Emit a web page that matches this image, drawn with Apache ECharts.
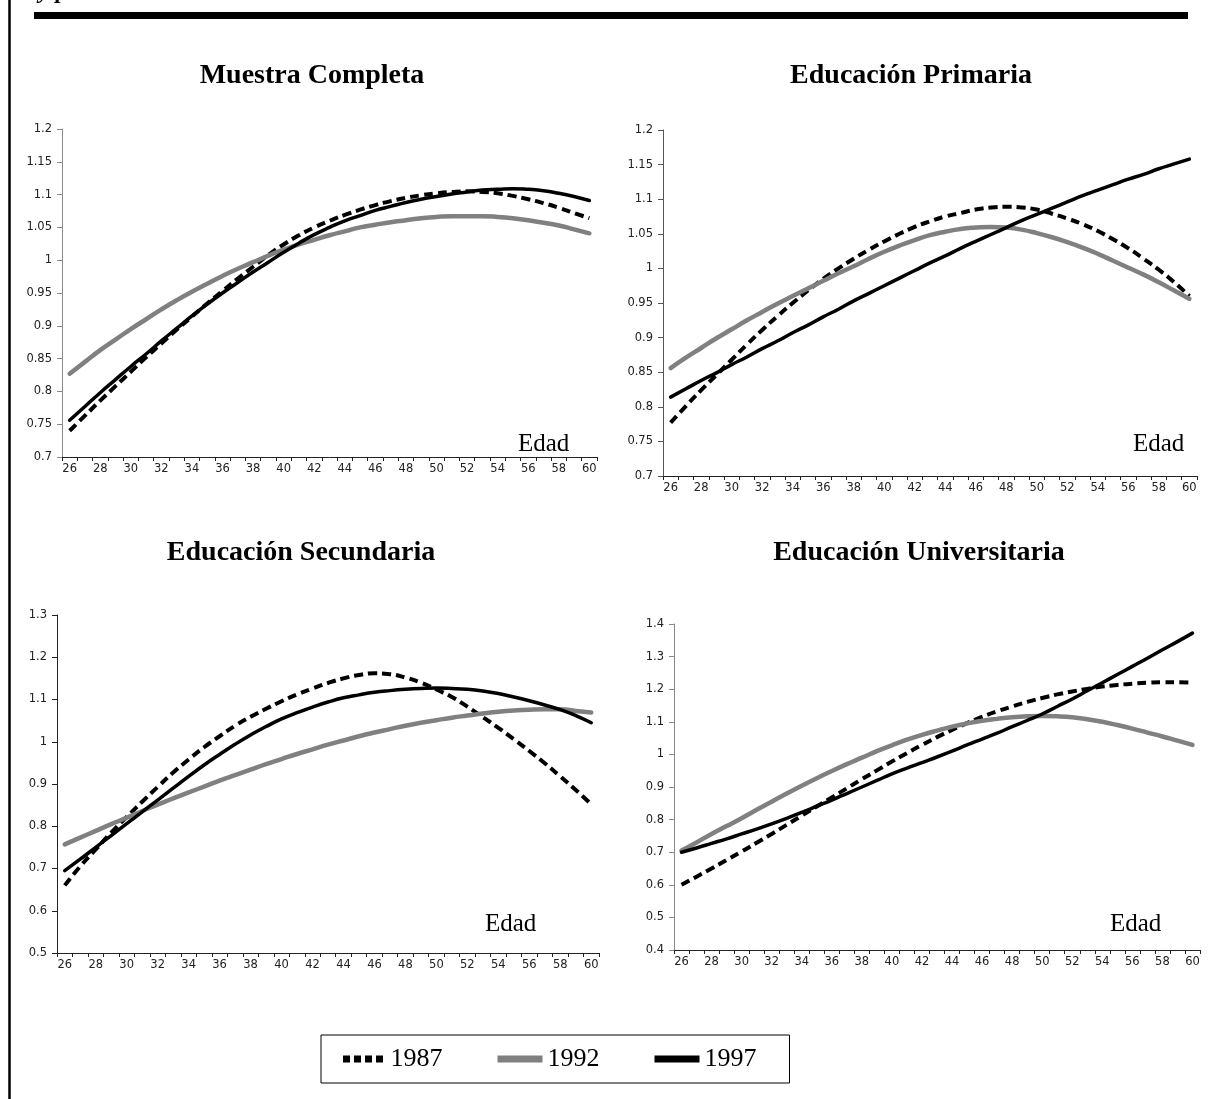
<!DOCTYPE html>
<html>
<head>
<meta charset="utf-8">
<title>Perfiles por edad</title>
<script src="https://cdn.jsdelivr.net/npm/echarts@6/dist/echarts.min.js"></script>
<style>
  html, body { margin: 0; padding: 0; background: #fff; }
  #main { width: 1224px; height: 1099px; }
</style>
</head>
<body>
<div id="main"></div>
<script>
// eje x: edad
let ages = ["26", "27", "28", "29", "30", "31", "32", "33", "34", "35", "36", "37",
  "38", "39", "40", "41", "42", "43", "44", "45", "46", "47", "48", "49",
  "50", "51", "52", "53", "54", "55", "56", "57", "58", "59", "60"];

let years = ["1987", "1992", "1997"];

// Muestra Completa
let mc1987 = [0.740, 0.763, 0.786, 0.808, 0.830, 0.852, 0.873, 0.894, 0.914, 0.934,
  0.953, 0.972, 0.990, 1.008, 1.024, 1.038, 1.050, 1.060, 1.069, 1.077,
  1.084, 1.090, 1.095, 1.099, 1.102, 1.104, 1.105, 1.104, 1.102, 1.098,
  1.093, 1.087, 1.080, 1.072, 1.064];
let mc1992 = [0.827, 0.845, 0.863, 0.879, 0.895, 0.910, 0.925, 0.939, 0.952, 0.964,
  0.976, 0.987, 0.997, 1.007, 1.016, 1.024, 1.031, 1.038, 1.044, 1.050,
  1.054, 1.058, 1.061, 1.064, 1.066, 1.067, 1.067, 1.067, 1.066, 1.064,
  1.061, 1.057, 1.053, 1.047, 1.041];
let mc1997 = [0.756, 0.777, 0.798, 0.818, 0.838, 0.857, 0.877, 0.896, 0.915, 0.933,
  0.950, 0.966, 0.982, 0.997, 1.012, 1.026, 1.039, 1.050, 1.060, 1.068,
  1.076, 1.082, 1.088, 1.093, 1.097, 1.101, 1.104, 1.107, 1.108, 1.109,
  1.108, 1.106, 1.102, 1.097, 1.091];

// Educación Primaria
let pr1987 = [0.777, 0.801, 0.824, 0.846, 0.868, 0.890, 0.911, 0.931, 0.950, 0.968,
  0.985, 1.000, 1.014, 1.027, 1.039, 1.050, 1.060, 1.068, 1.075, 1.080,
  1.085, 1.088, 1.089, 1.088, 1.085, 1.079, 1.072, 1.064, 1.054, 1.042,
  1.029, 1.014, 0.998, 0.980, 0.960];
let pr1992 = [0.856, 0.871, 0.885, 0.899, 0.912, 0.925, 0.937, 0.949, 0.960, 0.971,
  0.982, 0.993, 1.003, 1.014, 1.024, 1.033, 1.041, 1.048, 1.053, 1.057,
  1.059, 1.060, 1.059, 1.056, 1.051, 1.045, 1.038, 1.030, 1.021, 1.011,
  1.001, 0.991, 0.980, 0.968, 0.956];
let pr1997 = [0.814, 0.826, 0.838, 0.849, 0.861, 0.872, 0.884, 0.895, 0.907, 0.918,
  0.930, 0.941, 0.953, 0.964, 0.975, 0.986, 0.997, 1.008, 1.018, 1.029,
  1.039, 1.049, 1.059, 1.069, 1.078, 1.087, 1.096, 1.105, 1.113, 1.121,
  1.129, 1.136, 1.144, 1.151, 1.158];

// Educación Secundaria
let se1987 = [0.660, 0.705, 0.745, 0.785, 0.822, 0.858, 0.893, 0.927, 0.958, 0.987,
  1.013, 1.038, 1.059, 1.078, 1.096, 1.112, 1.126, 1.139, 1.150, 1.158,
  1.162, 1.160, 1.152, 1.140, 1.124, 1.106, 1.083, 1.058, 1.033, 1.006,
  0.978, 0.949, 0.918, 0.886, 0.852];
let se1992 = [0.757, 0.773, 0.789, 0.805, 0.820, 0.836, 0.851, 0.866, 0.880, 0.894,
  0.908, 0.921, 0.934, 0.947, 0.959, 0.971, 0.982, 0.993, 1.003, 1.013,
  1.022, 1.030, 1.038, 1.045, 1.051, 1.057, 1.062, 1.067, 1.071, 1.074,
  1.076, 1.077, 1.077, 1.073, 1.069];
let se1997 = [0.695, 0.722, 0.750, 0.778, 0.806, 0.834, 0.862, 0.890, 0.918, 0.945,
  0.970, 0.994, 1.016, 1.036, 1.054, 1.069, 1.082, 1.094, 1.104, 1.111,
  1.117, 1.121, 1.124, 1.126, 1.127, 1.126, 1.124, 1.120, 1.114, 1.106,
  1.097, 1.087, 1.076, 1.062, 1.045];

// Educación Universitaria
let un1987 = [0.600, 0.625, 0.650, 0.676, 0.702, 0.729, 0.756, 0.784, 0.812, 0.840,
  0.868, 0.896, 0.924, 0.951, 0.978, 1.004, 1.029, 1.053, 1.075, 1.096,
  1.115, 1.132, 1.147, 1.161, 1.173, 1.184, 1.193, 1.201, 1.208, 1.213,
  1.217, 1.220, 1.221, 1.221, 1.220];
let un1992 = [0.705, 0.730, 0.756, 0.780, 0.804, 0.830, 0.855, 0.880, 0.904, 0.927,
  0.949, 0.970, 0.990, 1.010, 1.028, 1.045, 1.060, 1.073, 1.085, 1.095,
  1.103, 1.109, 1.114, 1.117, 1.118, 1.117, 1.114, 1.108, 1.100, 1.090,
  1.079, 1.067, 1.055, 1.042, 1.029];
let un1997 = [0.700, 0.713, 0.727, 0.741, 0.756, 0.771, 0.787, 0.804, 0.822, 0.841,
  0.860, 0.880, 0.900, 0.920, 0.940, 0.958, 0.975, 0.992, 1.010, 1.029,
  1.047, 1.065, 1.085, 1.104, 1.124, 1.147, 1.170, 1.195, 1.220, 1.245,
  1.270, 1.295, 1.321, 1.346, 1.372];

let chartDom = document.getElementById("main");
let myChart = echarts.init(chartDom, null, { renderer: "canvas" });

// un panel por gráfico
let panels = [
  { title: "Muestra Completa", cx: 312, ty: 62, grid: { left: 62, top: 129, width: 535, height: 328 },
    min: 0.7, max: 1.2, interval: 0.05, yColor: "#888", edad: [518, 432], data: [mc1987, mc1992, mc1997] },
  { title: "Educación Primaria", cx: 911, ty: 62, grid: { left: 663, top: 130, width: 534, height: 346 },
    min: 0.7, max: 1.2, interval: 0.05, yColor: "#555", edad: [1133, 432], data: [pr1987, pr1992, pr1997] },
  { title: "Educación Secundaria", cx: 301, ty: 539, grid: { left: 57, top: 615, width: 542, height: 338 },
    min: 0.5, max: 1.3, interval: 0.1, yColor: "#222", edad: [485, 912], data: [se1987, se1992, se1997] },
  { title: "Educación Universitaria", cx: 919, ty: 539, grid: { left: 674, top: 624, width: 526, height: 326 },
    min: 0.4, max: 1.4, interval: 0.1, yColor: "#888", edad: [1110, 912], data: [un1987, un1992, un1997] },
];

let lineStyles = {
  "1987": { color: "#000", width: 4, type: [9, 5], cap: "butt" },
  "1992": { color: "#808080", width: 4.5, type: "solid", cap: "round" },
  "1997": { color: "#000", width: 3.5, type: "solid", cap: "round" },
};

let axisFont = { fontFamily: "DejaVu Sans", fontSize: 11.5, color: "#222" };

let titles = [];
let grids = [];
let xAxes = [];
let yAxes = [];
let series = [];
let graphics = [
  // barra negra superior y borde izquierdo
  { type: "rect", shape: { x: 34, y: 12, width: 1154, height: 7 }, style: { fill: "#000" } },
  { type: "line", shape: { x1: 9.5, y1: 0, x2: 9.5, y2: 1099 }, style: { stroke: "#000", lineWidth: 2.5 } },
  { type: "text", x: 39, y: -20, style: { text: "y p", font: 'italic bold 24px "Liberation Serif"', fill: "#000" } },
];

panels.forEach(function (p, i) {
  titles.push({
    text: p.title,
    left: p.cx,
    top: p.ty,
    textAlign: "center",
    padding: 0,
    textStyle: { fontFamily: "Liberation Serif", fontWeight: "bold", fontSize: 28, color: "#000" },
  });
  grids.push(p.grid);
  xAxes.push({
    type: "category",
    gridIndex: i,
    data: ages,
    boundaryGap: true,
    axisLine: { lineStyle: { color: "#222", width: 1 } },
    axisTick: { show: true, interval: 0, length: 4, lineStyle: { color: "#222" } },
    axisLabel: Object.assign({ interval: 1, margin: 6 }, axisFont),
    splitLine: { show: false },
  });
  yAxes.push({
    type: "value",
    gridIndex: i,
    min: p.min,
    max: p.max,
    interval: p.interval,
    axisLine: { show: true, lineStyle: { color: p.yColor, width: 1 } },
    axisTick: { show: true, length: 5, lineStyle: { color: p.yColor } },
    axisLabel: Object.assign({ margin: 10 }, axisFont),
    splitLine: { show: false },
  });
  years.forEach(function (y, k) {
    let ls = lineStyles[y];
    series.push({
      name: y,
      type: "line",
      xAxisIndex: i,
      yAxisIndex: i,
      data: p.data[k],
      smooth: true,
      symbol: "none",
      color: ls.color,
      lineStyle: { color: ls.color, width: ls.width, type: ls.type, cap: ls.cap, join: "round" },
      z: 2 + k,
      animation: false,
    });
  });
  graphics.push({
    type: "text",
    x: p.edad[0],
    y: p.edad[1],
    style: { text: "Edad", font: '25px "Liberation Serif"', fill: "#000" },
  });
});

let option = {
  backgroundColor: "#fff",
  animation: false,
  title: titles,
  grid: grids,
  xAxis: xAxes,
  yAxis: yAxes,
  legend: {
    left: 321,
    top: 1035,
    padding: [11, 33, 11, 22],
    itemGap: 55,
    itemWidth: 45,
    itemHeight: 7,
    borderColor: "#000",
    borderWidth: 1,
    backgroundColor: "#fff",
    itemStyle: { borderWidth: 0 },
    textStyle: { fontFamily: "Liberation Serif", fontSize: 26, color: "#000" },
    data: [
      { name: "1987", icon: "path://M0,0h7v7h-7z M11,0h7v7h-7z M22,0h7v7h-7z M33,0h7v7h-7z" },
      { name: "1992", icon: "rect" },
      { name: "1997", icon: "rect" },
    ],
  },
  graphic: graphics,
  series: series,
};

myChart.setOption(option);
</script>
</body>
</html>
